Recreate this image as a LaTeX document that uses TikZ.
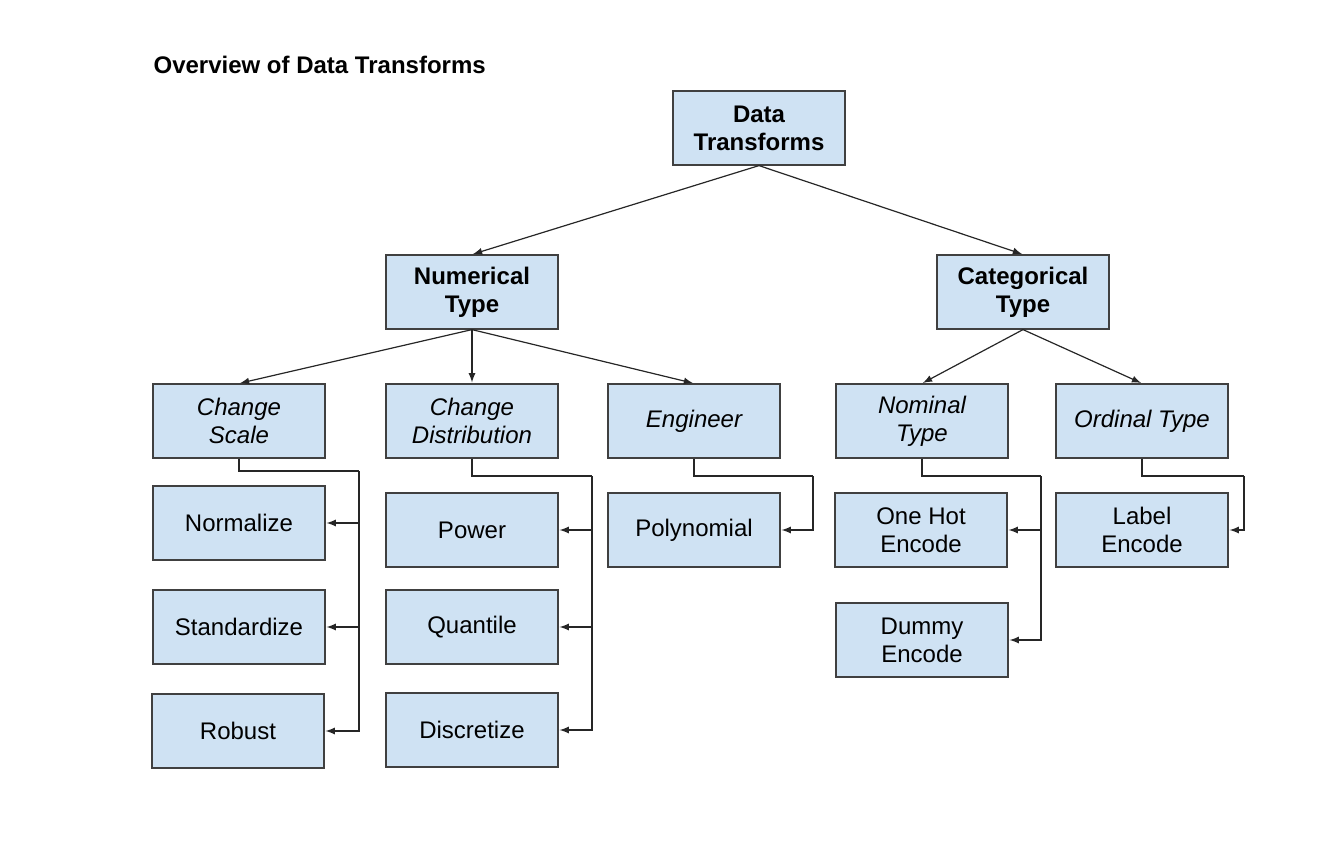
\documentclass[tikz,border=0pt]{standalone}
\usepackage{fontspec}
\setmainfont{Liberation Sans}
\usetikzlibrary{positioning,arrows}
\definecolor{boxblue}{HTML}{CFE2F3}

\begin{document}
\begin{tikzpicture}[x=0.5pt, y=-0.5pt, >=latex, line width=0.6pt]
      \tikzstyle{box} = [draw=black!75, fill=boxblue, rectangle, minimum width=86pt, minimum height=37pt, inner sep=2pt, align=center, font=\fontsize{12}{14}\selectfont]
      \tikzstyle{link} = [draw=black!85, ->, shorten >=0.5pt]
      \useasboundingbox (0,0) rectangle (1331,846);
      \node [anchor=west, inner sep=0pt, font=\fontsize{12}{14}\selectfont\bfseries] (title) at (153,65) {Overview of Data Transforms};

      % top levels
      \node [box, font=\fontsize{12}{14}\selectfont\bfseries] (dt) at (759,128) {Data\\Transforms};
      \node [box, font=\fontsize{12}{14}\selectfont\bfseries] (num) at (472,292) {Numerical\\Type};
      \node [box, font=\fontsize{12}{14}\selectfont\bfseries] (cat) at (1023,292) {Categorical\\Type};

      % kinds
      \node [box, font=\fontsize{12}{14}\selectfont\itshape] (scl) at (239,421) {Change\\Scale};
      \node [box, font=\fontsize{12}{14}\selectfont\itshape] (dst) at (472,421) {Change\\Distribution};
      \node [box, font=\fontsize{12}{14}\selectfont\itshape] (eng) at (694,421) {Engineer};
      \node [box, font=\fontsize{12}{14}\selectfont\itshape] (nom) at (922,421) {Nominal\\Type};
      \node [box, font=\fontsize{12}{14}\selectfont\itshape] (ord) at (1142,421) {Ordinal Type};

      % transforms
      \node [box] (nrm) at (239,523) {Normalize};
      \node [box] (std) at (239,627) {Standardize};
      \node [box] (rob) at (238,731) {Robust};
      \node [box] (pow) at (472,530) {Power};
      \node [box] (qnt) at (472,627) {Quantile};
      \node [box] (dis) at (472,730) {Discretize};
      \node [box] (poly) at (694,530) {Polynomial};
      \node [box] (oh) at (921,530) {One Hot\\Encode};
      \node [box] (dum) at (922,640) {Dummy\\Encode};
      \node [box] (lab) at (1142,530) {Label\\Encode};

      \foreach \n in {num,cat} {
        \draw [link] (dt.south) -- (\n.north);
      }
      \foreach \n in {scl,dst,eng} {
        \draw [link] (num.south) -- (\n.north);
      }
      \foreach \n in {nom,ord} {
        \draw [link] (cat.south) -- (\n.north);
      }

      % elbow buses
      \coordinate (sclbus) at (359,471);
      \coordinate (dstbus) at (592,476);
      \coordinate (engbus) at (813,476);
      \coordinate (nombus) at (1041,476);
      \coordinate (ordbus) at (1244,476);
      \draw [draw=black!85] (scl.south) |- (sclbus);
      \draw [draw=black!85] (dst.south) |- (dstbus);
      \draw [draw=black!85] (eng.south) |- (engbus);
      \draw [draw=black!85] (nom.south) |- (nombus);
      \draw [draw=black!85] (ord.south) |- (ordbus);
      \foreach \n in {nrm,std,rob} {
        \draw [link] (sclbus) |- (\n.east);
      }
      \foreach \n in {pow,qnt,dis} {
        \draw [link] (dstbus) |- (\n.east);
      }
      \foreach \n in {oh,dum} {
        \draw [link] (nombus) |- (\n.east);
      }
      \draw [link] (engbus) |- (poly.east);
      \draw [link] (ordbus) |- (lab.east);
    \end{tikzpicture}
\end{document}
